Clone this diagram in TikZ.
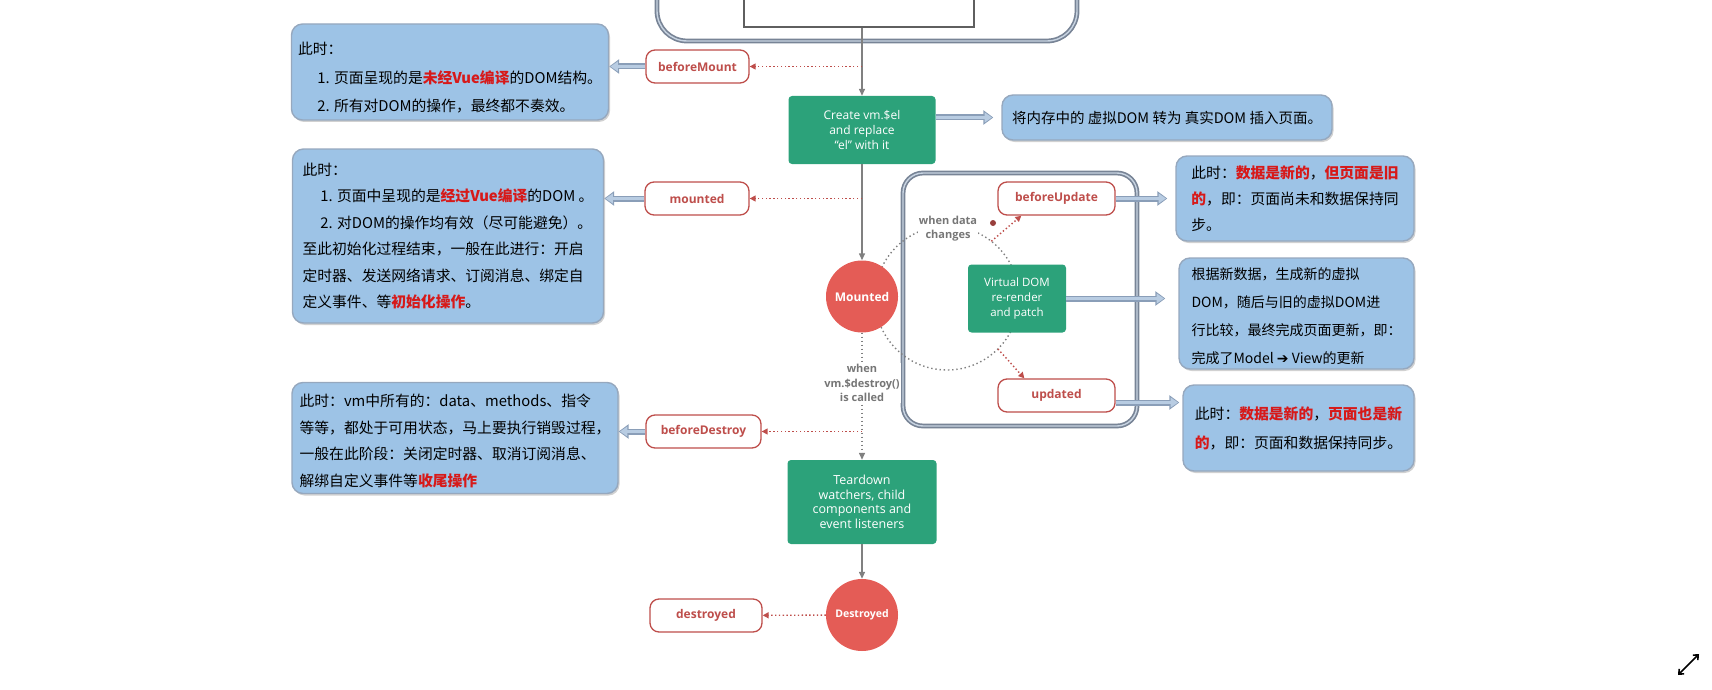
\documentclass[tikz,border=0pt]{standalone}
\usepackage{fontspec}
\usepackage{tikz}
\usetikzlibrary{calc,arrows.meta,shadows}
\setmainfont{Open Sans}
\newfontfamily\cjk{Noto Sans CJK SC}
\newfontfamily\symfont{DejaVu Sans}
\definecolor{notefill}{RGB}{157,195,230}
\definecolor{notebord}{RGB}{150,168,190}
\definecolor{hookred}{RGB}{190,78,75}
\definecolor{hilite}{RGB}{215,25,25}
\definecolor{vuegreen}{RGB}{44,162,122}
\definecolor{vuered}{RGB}{228,92,86}
\definecolor{flowgray}{RGB}{128,128,128}
\definecolor{condgray}{RGB}{118,118,118}
\definecolor{framebord}{RGB}{120,132,150}
\definecolor{framelight}{RGB}{200,212,226}
\definecolor{pipeedge}{RGB}{138,158,184}
\definecolor{pipefill}{RGB}{184,204,226}
\definecolor{tplgray}{RGB}{95,95,95}
\newcommand{\redmark}[1]{\textcolor{hilite}{\bfseries #1}}
\tikzset{
  vnote/.style={rectangle, rounded corners=11pt, draw=notebord, line width=1.4pt,
                fill=notefill, align=left, inner sep=0pt,
                font=\cjk\fontsize{14.8}{#1}\selectfont,
                drop shadow={shadow xshift=1.5pt, shadow yshift=-2pt, fill=black, opacity=0.18}},
  vnote/.default=27,
  vhook/.style ={rectangle, rounded corners=9pt, draw=hookred, line width=1.3pt, fill=white,
                 text=hookred, font=\bfseries\fontsize{12}{14}\selectfont,
                 minimum height=33pt, inner sep=0pt},
  vstep/.style ={rectangle, rounded corners=3.5pt, fill=vuegreen, text=white, align=center,
                 inner sep=0pt, font=\fontsize{12}{15.3}\selectfont},
  vstate/.style={circle, fill=vuered, text=white, minimum size=72pt, inner sep=0pt,
                 font=\bfseries\fontsize{12}{14}\selectfont},
  vframe/.style={rectangle, rounded corners=#1, draw=framebord, line width=1.7pt,
                 double=framelight, double distance=1.4pt, fill=white,
                 drop shadow={shadow xshift=1pt, shadow yshift=-2pt, fill=black, opacity=0.22}},
  vcond/.style ={fill=white, text=condgray, align=center, inner sep=1pt,
                 font=\bfseries\fontsize{11}{14.5}\selectfont},
  vflow/.style ={-{Triangle[length=7pt,width=6pt]}, line width=1.4pt, draw=flowgray},
  vdots/.style ={dash pattern=on 1.4pt off 2.6pt},
  vring/.style ={draw=flowgray, line width=1.4pt, dash pattern=on 1.4pt off 2.8pt},
  vtrig/.style ={-{Triangle[length=6pt,width=6pt]}, line width=1.4pt, draw=hookred,
                 dash pattern=on 1.4pt off 2.4pt},
  vpipe/.style ={line width=6pt, draw=pipeedge, -{Triangle[length=10pt,width=14pt]},
                 postaction={draw=pipefill, line width=3.4pt,
                             -{Triangle[length=7.4pt,width=9.6pt]}, shorten >=1.3pt}},
}

\begin{document}
\begin{tikzpicture}[x=1pt, y=-1pt]
  \useasboundingbox (0,0) rectangle (1712,690);
  \clip (0,0) rectangle (1712,690);

  % frames
  \node[vframe=30pt, minimum width=420pt, minimum height=120pt] (initbox) at (867,-19) {};
  \node[draw=tplgray, line width=1.2pt, fill=white, minimum width=230pt, minimum height=80pt] (tpl) at (859,-13) {};
  \node[vframe=20pt, minimum width=234pt, minimum height=253pt] (loop) at (1020,299.5) {};
  \coordinate (ringc) at (947,298);
  \draw[vring] (ringc) circle[radius=72pt];

  % lifecycle steps
  \node[vstep, minimum width=147pt, minimum height=68pt] (create) at (862,130) {Create vm.\$el\\and replace\\“el” with it};
  \node[vstate] (mountedc) at (862,296.5) {Mounted};
  \node[vstep, minimum width=98pt, minimum height=68pt, font=\fontsize{11.5}{15.3}\selectfont] (vdom) at (1017,298.5) {Virtual DOM\\re-render\\and patch};
  \node[vstep, minimum width=149pt, minimum height=84pt, font=\fontsize{12.5}{14.5}\selectfont] (teardown) at (862,502) {Teardown\\watchers, child\\components and\\event listeners};
  \node[vstate, font=\bfseries\fontsize{10.5}{12}\selectfont] (destroyedc) at (862,615) {Destroyed};

  % hooks
  \node[vhook, minimum width=103pt] (bm) at (697.5,66.5) {beforeMount};
  \node[vhook, minimum width=104pt] (mt) at (697,198.5) {mounted};
  \node[vhook, minimum width=115pt] (bd) at (703.5,431.5) {beforeDestroy};
  \node[vhook, minimum width=112pt] (dd) at (706,615.5) {destroyed};
  \node[vhook, minimum width=117pt] (bu) at (1056.5,198.5) {beforeUpdate};
  \node[vhook, minimum width=117pt] (ud) at (1056.5,395.5) {updated};

  % notes
  \node[vnote=28.5, minimum width=317pt, minimum height=96pt] (nmount) at (450,72)
    {\rule{0pt}{24pt}此时：\\\hspace*{1.3em}1. 页面呈现的是\redmark{未经Vue编译}的DOM结构。\\\hspace*{1.3em}2. 所有对DOM的操作，最终都不奏效。};
  \node[vnote=26.5, minimum width=311pt, minimum height=174pt] (nready) at (448,236)
    {此时：\\\hspace*{1.2em}1. 页面中呈现的是\redmark{经过Vue编译}的DOM 。\\\hspace*{1.2em}2. 对DOM的操作均有效（尽可能避免）。\\至此初始化过程结束，一般在此进行：开启\\定时器、发送网络请求、订阅消息、绑定自\\定义事件、等\redmark{初始化操作}。};
  \node[vnote, minimum width=330pt, minimum height=45pt, font=\cjk\fontsize{14.5}{27}\selectfont] (nrender) at (1167,117.5)
    {将内存中的 虚拟DOM 转为 真实DOM 插入页面。};
  \node[vnote=26.5, minimum width=326pt, minimum height=111pt] (nteardown) at (455,438)
    {\rule{0pt}{18pt}此时：vm中所有的：data、methods、指令\\等等，都处于可用状态，马上要执行销毁过程，\\一般在此阶段：关闭定时器、取消订阅消息、\\解绑自定义事件等\redmark{收尾操作}};
  \node[vnote=26, minimum width=238pt, minimum height=85pt] (nbefore) at (1295,198.5)
    {此时：\redmark{数据是新的}，\redmark{但页面是旧}\\\redmark{的}，即：页面尚未和数据保持同\\步。};
  \node[vnote, minimum width=235pt, minimum height=111pt, font=\cjk\fontsize{14}{28}\selectfont] (npatch) at (1296.5,313.5)
    {\rule{0pt}{18pt}根据新数据，生成新的虚拟\\DOM，随后与旧的虚拟DOM进\\行比较，最终完成页面更新，即：\\完成了Model {\symfont ➔} View的更新};
  \node[vnote=29, minimum width=231pt, minimum height=86pt] (nafter) at (1298.5,428)
    {此时：\redmark{数据是新的}，\redmark{页面也是新}\\\redmark{的}，即：页面和数据保持同步。};

  % flow
  \draw[vflow] (tpl.south -| create.north) -- (create.north);
  \draw[vflow] (create) -- (mountedc);
  \draw[vflow, vdots] (mountedc) -- (teardown);
  \draw[vflow] (teardown) -- (destroyedc);

  % hook triggers
  \draw[vtrig] (create |- bm) -- (bm);
  \draw[vtrig] (create |- mt) -- (mt);
  \draw[vtrig] (teardown |- bd) -- (bd);
  \draw[vtrig] (destroyedc) -- (dd);
  \draw[vtrig] ($(ringc)+(-52:72)$) -- ([xshift=24pt]bu.south west);
  \draw[vtrig] ($(ringc)+(45:72)$) -- ([xshift=27pt]ud.north west);
  \node[circle, fill=hookred!80!black, minimum size=6pt, inner sep=0pt] (cursor) at (993,223) {};

  % notes links
  \draw[vpipe] (bm.west) -- (bm.west -| nmount.east);
  \draw[vpipe] (mt.west) -- (mt.west -| nready.east);
  \draw[vpipe] (bd.west) -- (bd.west -| nteardown.east);
  \draw[vpipe] (create.east |- nrender.west) -- ($(nrender.west)+(-8,0)$);
  \draw[vpipe] (bu.east) -- ($(bu.east -| nbefore.west)+(-8,0)$);
  \draw[vpipe] (vdom.east) -- ($(vdom.east -| npatch.west)+(-13,0)$);
  \coordinate (udout) at ([yshift=-7pt]ud.east);
  \draw[vpipe] (udout) -- ($(udout -| nafter.west)+(-3,0)$);

  % conditions
  \node[vcond] (condup) at (948,228.5) {when data\\changes};
  \node[vcond] (conddown) at (862,383) {when\\vm.\$destroy()\\is called};

  % expand icon
  \coordinate (zoomsw) at (1678,675);
  \coordinate (zoomne) at (1699,654);
  \draw[{Straight Barb[length=4pt,width=7pt]}-{Straight Barb[length=4pt,width=7pt]}, line width=1.6pt] (zoomsw) -- (zoomne);
\end{tikzpicture}
\end{document}
